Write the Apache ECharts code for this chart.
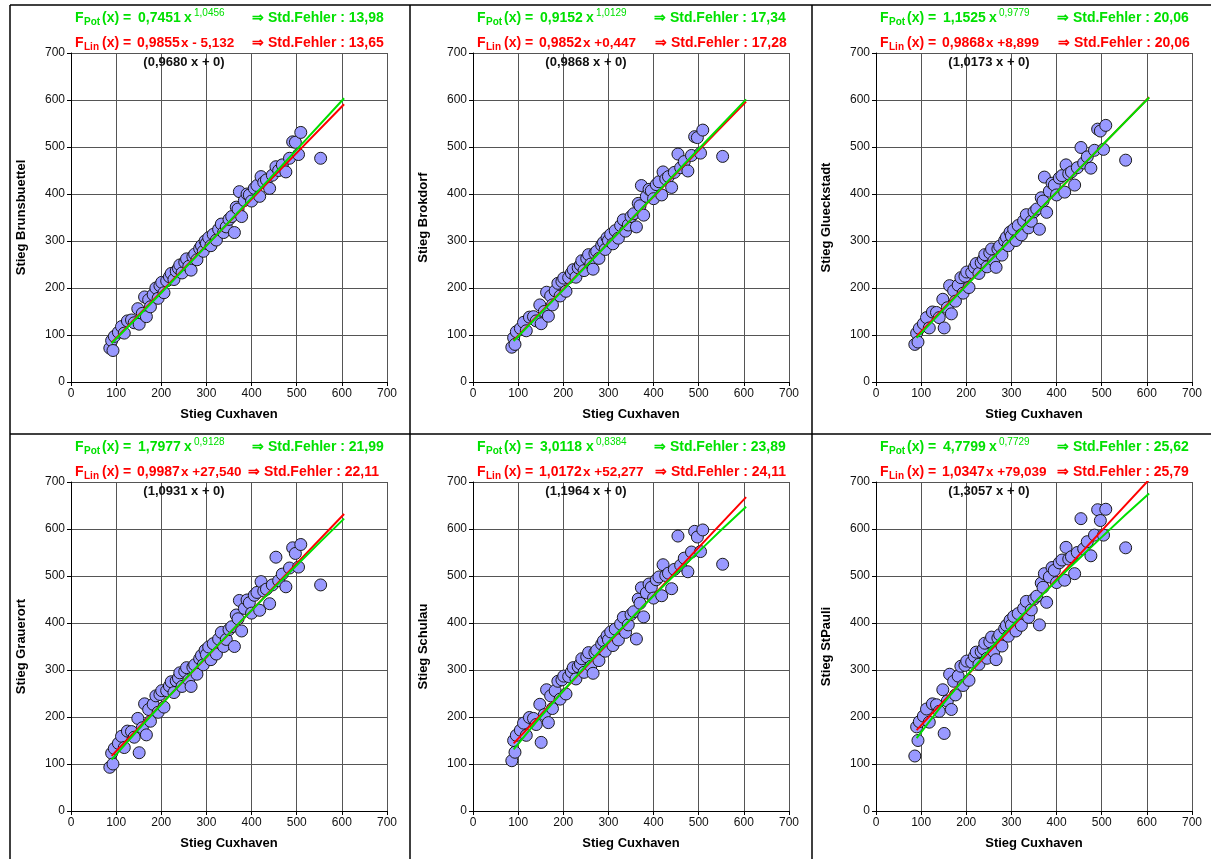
<!DOCTYPE html>
<html>
<head>
<meta charset="utf-8">
<script src="https://cdn.jsdelivr.net/npm/echarts@6/dist/echarts.min.js"></script>
<style>
  html, body { margin: 0; padding: 0; background: #fff; }
  #chart { width: 1211px; height: 859px; }
</style>
</head>
<body>
<div id="chart"></div>
<script>
// Stieg Cuxhaven (x) for all six panels
var cuxhaven = [86,90,93,96,105,112,118,125,134,140, 148,151,158,163,167,172,176,182,188,193,
  197,201,206,212,218,222,228,233,238,241, 246,252,256,261,266,270,274,279,285,289,
  293,297,300,305,310,315,322,327,333,338, 344,350,356,362,366,370,373,378,384,390,
  395,400,406,412,418,421,427,433,440,446, 454,460,468,476,484,491,497,504,509,553]

var brunsbuettel = [72,88,67,97,106,118,104,130,132,126, 156,123,146,181,139,175,160,186,200,178,
  205,212,190,215,224,231,218,236,242,249, 232,255,262,246,238,267,272,260,284,290,
  278,300,295,307,290,314,302,325,336,318, 330,346,352,318,372,368,405,352,386,400,
  398,385,412,418,395,437,425,430,412,440, 458,450,462,447,476,511,510,484,531,476]
var brokdorf = [74,94,80,107,114,127,109,138,139,130, 164,124,150,191,140,183,164,194,210,183,
  214,221,193,222,232,239,223,243,249,258, 237,263,271,251,240,274,278,263,291,297,
  282,307,301,314,294,322,306,333,345,321, 334,352,358,330,380,375,418,355,395,410,
  407,390,420,426,398,447,432,437,414,446, 485,456,469,449,482,522,520,487,536,480]
var glueckstadt = [80,104,85,114,124,137,115,149,148,137, 176,115,158,205,145,194,172,206,222,189,
  225,234,201,233,244,252,231,254,261,271, 245,275,283,258,244,283,289,270,301,308,
  290,319,311,325,301,333,313,343,356,328, 342,362,368,325,392,385,436,361,406,423,
  419,398,434,439,404,462,443,447,419,456, 499,466,479,455,493,538,534,495,546,472]
var grauerort = [93,123,100,133,144,159,135,170,169,157, 197,124,177,228,162,216,191,227,245,210,
  248,256,221,256,266,275,252,277,283,294, 265,297,305,279,265,306,311,291,324,331,
  311,342,333,349,322,356,334,366,380,350, 365,386,392,350,417,409,448,383,431,449,
  443,421,459,465,427,488,468,472,441,481, 540,490,504,477,517,560,548,519,567,481]
var schulau = [107,150,125,161,172,187,161,199,197,184, 227,146,205,258,188,245,218,256,276,238,
  279,287,249,286,296,305,281,307,313,324, 295,328,337,308,293,337,342,320,355,362,
  340,373,364,381,352,387,364,398,412,380, 396,418,424,366,451,442,475,413,464,483,
  476,453,492,498,458,524,501,506,473,514, 585,523,538,509,551,595,583,552,598,525]
var stpauli = [117,179,150,190,202,217,189,228,226,212, 258,165,234,291,216,276,247,287,308,267,
  310,319,278,317,329,338,312,339,345,357, 325,360,370,339,322,368,375,351,388,395,
  372,406,396,414,383,420,395,431,446,412, 428,451,457,396,485,476,505,444,498,518,
  512,486,528,534,491,561,536,541,505,550, 622,558,573,543,587,641,618,587,642,560]

// fitted curves, x positions and values per panel
var fitX = [90, 200, 350, 500, 605]
var potFit = [
  [82.3, 189.8, 340.6, 494.5, 603.7],
  [87.3, 195.9, 345.5, 495.7, 601.3],
  [93.9, 205.0, 354.4, 502.5, 605.2],
  [109.3, 226.5, 377.5, 522.9, 622.1],
  [131.0, 255.9, 409.1, 551.8, 647.2],
  [154.9, 287.0, 442.3, 582.7, 675.3]
]
var linFit = [
  [83.6, 192.0, 339.8, 487.6, 591.1],
  [89.1, 197.5, 345.3, 493.0, 596.5],
  [97.7, 206.3, 354.3, 502.3, 605.9],
  [117.4, 227.3, 377.1, 526.9, 631.8],
  [143.8, 255.7, 408.3, 560.9, 667.7],
  [172.2, 286.0, 441.2, 596.4, 705.0]
]

var panelNames = ['Stieg Brunsbuettel', 'Stieg Brokdorf', 'Stieg Glueckstadt', 'Stieg Grauerort', 'Stieg Schulau', 'Stieg StPauli']
var potCoef = ['0,7451', '0,9152', '1,1525', '1,7977', '3,0118', '4,7799']
var potExp = ['1,0456', '1,0129', '0,9779', '0,9128', '0,8384', '0,7729']
var potErr = ['13,98', '17,34', '20,06', '21,99', '23,89', '25,62']
var linCoef = ['0,9855', '0,9852', '0,9868', '0,9987', '1,0172', '1,0347']
var linRest = ['x - 5,132', 'x +0,447', 'x +8,899', 'x +27,540', 'x +52,277', 'x +79,039']
var linErr = ['13,65', '17,28', '20,06', '22,11', '24,11', '25,79']
var originFit = ['(0,9680 x + 0)', '(0,9868 x + 0)', '(1,0173 x + 0)', '(1,0931 x + 0)', '(1,1964 x + 0)', '(1,3057 x + 0)']
var xTitle = 'Stieg Cuxhaven'
var seriesY = [brunsbuettel, brokdorf, glueckstadt, grauerort, schulau, stpauli]

var GREEN = '#00e000'
var RED = '#ff0000'
var FONT = '"Liberation Sans", Arial, sans-serif'

// plot boxes (pixel)
var plotLeft = [71, 473, 876, 71, 473, 876]
var plotTop = [53, 53, 53, 482, 482, 482]
var arrow2 = [177, 178, 178, 173, 178, 177]

function txt(x, y, text, color, font, align) {
  return {
    type: 'text', x: x, y: y, silent: true, z: 100,
    style: { text: text, fill: color, font: font, textAlign: align || 'left', textVerticalAlign: 'middle' }
  }
}

var grids = [], xAxes = [], yAxes = [], series = [], graphics = []

for (var i = 0; i < 6; i++) {
  grids.push({ left: plotLeft[i], top: plotTop[i], width: 316, height: 329 })
  xAxes.push({
    type: 'value', gridIndex: i, min: 0, max: 700, interval: 100,
    name: xTitle, nameLocation: 'middle', nameGap: 26,
    nameTextStyle: { fontFamily: FONT, fontWeight: 'bold', fontSize: 13, color: '#000' },
    axisLine: { lineStyle: { color: '#000', width: 1 } },
    axisTick: { show: true, length: 4, lineStyle: { color: '#000' } },
    axisLabel: { color: '#111', fontFamily: FONT, fontSize: 12, margin: 6 },
    splitLine: { show: true, lineStyle: { color: '#555', width: 1 } }
  })
  yAxes.push({
    type: 'value', gridIndex: i, min: 0, max: 700, interval: 100,
    name: panelNames[i], nameLocation: 'middle', nameGap: 43,
    nameTextStyle: { fontFamily: FONT, fontWeight: 'bold', fontSize: 13, color: '#000' },
    axisLine: { show: true, lineStyle: { color: '#000', width: 1 } },
    axisTick: { show: true, length: 4, lineStyle: { color: '#000' } },
    axisLabel: { color: '#111', fontFamily: FONT, fontSize: 12, margin: 6 },
    splitLine: { show: true, lineStyle: { color: '#555', width: 1 } }
  })
  var ys = seriesY[i]
  series.push({
    type: 'scatter', xAxisIndex: i, yAxisIndex: i,
    data: cuxhaven.map(function (x, k) { return [x, ys[k]] }),
    symbolSize: 12,
    itemStyle: { color: '#9999ff', borderColor: '#1a1a1a', borderWidth: 1, opacity: 1 },
    z: 2
  })
  series.push({
    type: 'line', xAxisIndex: i, yAxisIndex: i, showSymbol: false, smooth: false,
    data: fitX.map(function (x, k) { return [x, linFit[i][k]] }),
    lineStyle: { color: RED, width: 2 }, z: 3
  })
  series.push({
    type: 'line', xAxisIndex: i, yAxisIndex: i, showSymbol: false, smooth: true,
    data: fitX.map(function (x, k) { return [x, potFit[i][k]] }),
    lineStyle: { color: GREEN, width: 2 }, z: 4
  })

  // header formulas
  var x0 = plotLeft[i] + 4
  var y1 = plotTop[i] - 35
  var y2 = plotTop[i] - 10
  var bold14 = 'bold 14px ' + FONT
  var bold10 = 'bold 10px ' + FONT
  graphics.push(txt(x0, y1, 'F', GREEN, bold14))
  graphics.push(txt(x0 + 9, y1 + 4, 'Pot', GREEN, bold10))
  graphics.push(txt(x0 + 27, y1, '(x) =', GREEN, bold14))
  graphics.push(txt(x0 + 63, y1, potCoef[i], GREEN, bold14))
  graphics.push(txt(x0 + 109, y1, 'x', GREEN, bold14))
  graphics.push(txt(x0 + 119, y1 - 5, potExp[i], GREEN, '10px ' + FONT))
  graphics.push(txt(x0 + 177, y1, '\u21D2 Std.Fehler : ' + potErr[i], GREEN, bold14))

  graphics.push(txt(x0, y2, 'F', RED, bold14))
  graphics.push(txt(x0 + 9, y2 + 4, 'Lin', RED, bold10))
  graphics.push(txt(x0 + 27, y2, '(x) =', RED, bold14))
  graphics.push(txt(x0 + 62, y2, linCoef[i], RED, bold14))
  graphics.push(txt(x0 + 106, y2, linRest[i], RED, 'bold 13.5px ' + FONT))
  graphics.push(txt(x0 + arrow2[i], y2, '\u21D2 Std.Fehler : ' + linErr[i], RED, bold14))

  graphics.push(txt(plotLeft[i] + 113, plotTop[i] + 9, originFit[i], '#111', 'bold 13px ' + FONT, 'center'))
}

// panel frame lines
function frameLine(x1, y1, x2, y2) {
  return { type: 'line', silent: true, shape: { x1: x1, y1: y1, x2: x2, y2: y2 }, style: { stroke: '#000', lineWidth: 1.5 } }
}
graphics.push(frameLine(10, 5, 1211, 5))
graphics.push(frameLine(10, 5, 10, 859))
graphics.push(frameLine(10, 434, 1211, 434))
graphics.push(frameLine(410, 5, 410, 859))
graphics.push(frameLine(812, 5, 812, 859))

var chart = echarts.init(document.getElementById('chart'), null, { renderer: 'canvas' })
chart.setOption({
  animation: false,
  backgroundColor: '#fff',
  grid: grids,
  xAxis: xAxes,
  yAxis: yAxes,
  series: series,
  graphic: graphics
})
</script>
</body>
</html>
